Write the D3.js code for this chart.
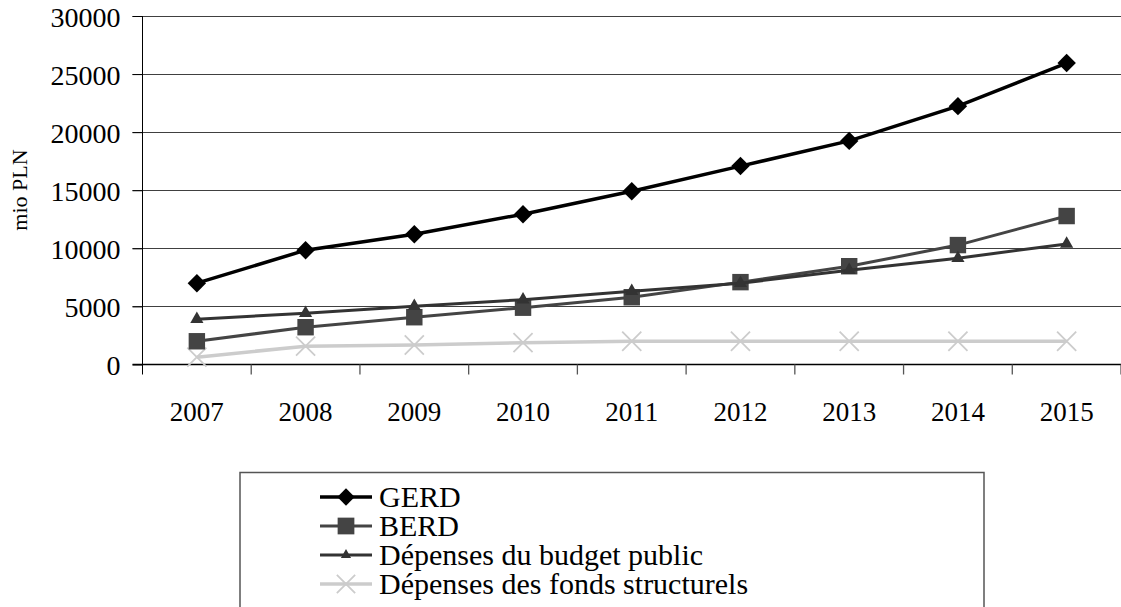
<!DOCTYPE html>
<html>
<head>
<meta charset="utf-8">
<script src="https://cdnjs.cloudflare.com/ajax/libs/d3/7.8.5/d3.min.js"></script>
<style>
  body { margin: 0; background: #fff; }
</style>
</head>
<body>
<div id="main"></div>
<script>
// data (mio PLN)
var years = ["2007", "2008", "2009", "2010", "2011", "2012", "2013", "2014", "2015"];
var gerd = [7000, 9840, 11220, 12940, 14920, 17080, 19250, 22240, 25950];
var berd = [2000, 3210, 4070, 4890, 5790, 7090, 8460, 10280, 12780];
var budget = [3900, 4420, 5020, 5580, 6310, 7000, 8120, 9150, 10380];
var fonds = [630, 1580, 1680, 1880, 2000, 2000, 2000, 2000, 2000];
var yTicks = [0, 5000, 10000, 15000, 20000, 25000, 30000];
var seriesNames = ["GERD", "BERD", "Dépenses du budget public", "Dépenses des fonds structurels"];

var serif = "'Liberation Serif', 'Times New Roman', Times, serif";

var graphic = new Object;
graphic.width = 1121;
graphic.height = 607;

graphic.series = [
  { name: seriesNames[0], values: gerd, color: "#000000", width: 3.5, symbol: "diamond", size: 170, legSize: 150 },
  { name: seriesNames[1], values: berd, color: "#444444", width: 3, symbol: "square", size: 270, legSize: 280 },
  { name: seriesNames[2], values: budget, color: "#333333", width: 3, symbol: "triangle", size: 75, legSize: 45 },
  { name: seriesNames[3], values: fonds, color: "#cccccc", width: 3.5, symbol: "times", size: 240, legSize: 220 }
];

graphic.symbolPath = function(kind, size) {
  if (kind == "diamond") return d3.symbol(d3.symbolSquare, size)();
  if (kind == "square") return d3.symbol(d3.symbolSquare, size)();
  if (kind == "triangle") return d3.symbol(d3.symbolTriangle, size)();
  return d3.symbol(d3.symbolTimes, size)();
};

graphic.addMarker = function(g, s, cx, cy, size) {
  var p = g.append("path")
    .attr("d", this.symbolPath(s.symbol, size))
    .attr("transform", "translate(" + cx + "," + cy + ")" + (s.symbol == "diamond" ? " rotate(45)" : ""));
  if (s.symbol == "times") {
    p.attr("fill", "none").attr("stroke", s.color).attr("stroke-width", 1.8);
  } else {
    p.attr("fill", s.color);
  }
};

graphic.create = function() {
  var left = 142.5, right = 1121, top = 16, bottom = 364.5;

  this.svg = d3.select("#main")
    .append("svg")
    .attr("width", this.width)
    .attr("height", this.height)
    .style("font-family", serif);

  var x = d3.scaleBand().domain(years).range([left, right]).padding(0);
  var y = d3.scaleLinear().domain([0, 30000]).range([bottom, top]);
  var cx = function(i) { return x(years[i]) + x.bandwidth() / 2; };

  // horizontal gridlines (run through the tick marks on the left)
  this.svg.append("g").selectAll("line")
    .data(yTicks.filter(function(t) { return t > 0; }))
    .enter().append("line")
    .attr("x1", left - 10).attr("x2", right)
    .attr("y1", function(d) { return Math.round(y(d)) + 0.5; })
    .attr("y2", function(d) { return Math.round(y(d)) + 0.5; })
    .attr("stroke", "#404040").attr("stroke-width", 1);

  // y axis
  var yAxis = this.svg.append("g")
    .attr("transform", "translate(" + left + ",0)")
    .call(d3.axisLeft(y).tickValues(yTicks).tickSize(10).tickPadding(12).tickFormat(d3.format("d")));
  yAxis.attr("font-family", serif).attr("font-size", null);
  yAxis.select(".domain").attr("d", "M0," + top + "V" + (bottom + 10)).attr("stroke", "#000");
  yAxis.selectAll(".tick line").attr("stroke", "#000");
  yAxis.selectAll("text").style("font-size", "28px").style("font-family", serif).attr("fill", "#000").attr("dy", "0.36em");

  // x axis
  this.svg.append("line")
    .attr("x1", left - 10).attr("x2", right)
    .attr("y1", bottom).attr("y2", bottom)
    .attr("stroke", "#000").attr("stroke-width", 1.3);

  var bounds = years.map(function(d) { return x(d); }).concat([right]).slice(1);
  this.svg.append("g").selectAll("line")
    .data(bounds)
    .enter().append("line")
    .attr("x1", function(d) { return d; }).attr("x2", function(d) { return d; })
    .attr("y1", bottom).attr("y2", bottom + 10)
    .attr("stroke", "#555").attr("stroke-width", 1.3);

  this.svg.append("g").selectAll("text")
    .data(years)
    .enter().append("text")
    .attr("x", function(d, i) { return cx(i); })
    .attr("y", 421)
    .attr("text-anchor", "middle")
    .style("font-size", "27px")
    .style("font-family", serif)
    .text(function(d) { return d; });

  // axis title
  this.svg.append("text")
    .attr("transform", "translate(27,190) rotate(-90)")
    .attr("text-anchor", "middle")
    .style("font-size", "22px")
    .style("font-family", serif)
    .text("mio PLN");

  // series, drawn from the back
  var line = d3.line()
    .x(function(d, i) { return cx(i); })
    .y(function(d) { return y(d); });

  var order = [3, 1, 2, 0];
  for (var k = 0; k < order.length; k++) {
    var s = this.series[order[k]];
    var g = this.svg.append("g");
    g.append("path")
      .attr("d", line(s.values))
      .attr("fill", "none")
      .attr("stroke", s.color)
      .attr("stroke-width", s.width);
    for (var i = 0; i < s.values.length; i++) {
      this.addMarker(g, s, cx(i), y(s.values[i]), s.size);
    }
  }

  // legend
  this.svg.append("rect")
    .attr("x", 240).attr("y", 472.5)
    .attr("width", 744).attr("height", 200)
    .attr("fill", "none").attr("stroke", "#555").attr("stroke-width", 1.5);

  for (var j = 0; j < this.series.length; j++) {
    var s2 = this.series[j];
    var ly = 497 + j * 29;
    var lg = this.svg.append("g");
    lg.append("line")
      .attr("x1", 320).attr("x2", 372)
      .attr("y1", ly).attr("y2", ly)
      .attr("stroke", s2.color).attr("stroke-width", s2.width);
    this.addMarker(lg, s2, 346, ly, s2.legSize);
    lg.append("text")
      .attr("x", 379).attr("y", ly + 10)
      .style("font-size", "30px")
      .style("font-family", serif)
      .text(s2.name);
  }
};

graphic.create();
</script>
</body>
</html>
